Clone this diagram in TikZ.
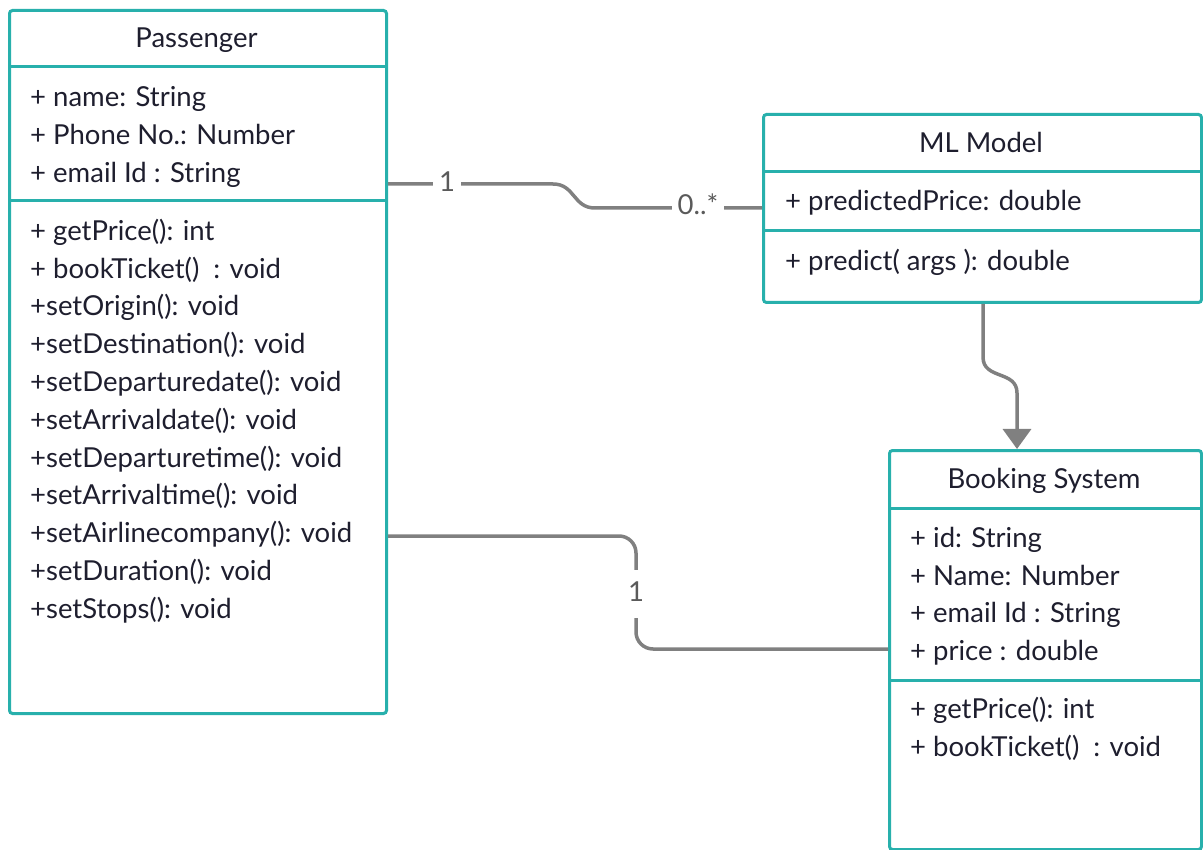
\documentclass[tikz,border=0pt]{standalone}
\usepackage{fontspec}
\setmainfont{Lato}
\usetikzlibrary{arrows.meta}
\definecolor{umlteal}{HTML}{28B0AC}
\definecolor{umltext}{HTML}{1E1E2E}
\definecolor{conngray}{HTML}{808080}
\definecolor{lblgray}{HTML}{5A5A5A}
\begin{document}
\begin{tikzpicture}[x=1pt,y=-1pt,
  classbox/.style={draw=umlteal, line width=3pt, rounded corners=3pt, anchor=north west, inner sep=0pt, fill=white},
  divider/.style={draw=umlteal, line width=3pt},
  txt/.style={anchor=base west, inner sep=0pt, text=umltext, font=\fontsize{27.5}{32}\selectfont},
  ttl/.style={anchor=base, inner sep=0pt, text=umltext, font=\fontsize{27.5}{32}\selectfont},
  conn/.style={draw=conngray, line width=3.5pt},
  lbl/.style={fill=white, text=lblgray, font=\fontsize{27.5}{32}\selectfont, inner xsep=6pt, inner ysep=11pt, text height=20pt, text depth=6pt},
]
\useasboundingbox (0,0) rectangle (1203,850);

% ---------- Passenger ----------
\node[classbox, minimum width=377pt, minimum height=703pt] (pass) at (8,9) {};
\draw[divider] (pass.west |- 0,67) -- (pass.east |- 0,67);
\draw[divider] (pass.west |- 0,201) -- (pass.east |- 0,201);
\node[ttl] (pt) at (196.5,48) {Passenger};
\node[txt] (pa1) at (30,107) {+ name: String};
\node[txt] (pa2) at (30,145) {+ Phone No.: Number};
\node[txt] (pa3) at (30,183) {+ email Id : String};
\node[txt] (pm1) at (30,240.5) {+ getPrice(): int};
\node[txt] (pm2) at (30,278.25) {+ bookTicket()~ : void};
\node[txt] (pm3) at (30,316) {+setOrigin(): void};
\node[txt] (pm4) at (30,353.75) {+setDestination(): void};
\node[txt] (pm5) at (30,391.5) {+setDeparturedate(): void};
\node[txt] (pm6) at (30,429.25) {+setArrivaldate(): void};
\node[txt] (pm7) at (30,467) {+setDeparturetime(): void};
\node[txt] (pm8) at (30,504.75) {+setArrivaltime(): void};
\node[txt] (pm9) at (30,542.5) {+setAirlinecompany(): void};
\node[txt] (pm10) at (30,580.25) {+setDuration(): void};
\node[txt] (pm11) at (30,618) {+setStops(): void};

% ---------- ML Model ----------
\node[classbox, minimum width=438pt, minimum height=188pt] (ml) at (762,113) {};
\draw[divider] (ml.west |- 0,172) -- (ml.east |- 0,172);
\draw[divider] (ml.west |- 0,231) -- (ml.east |- 0,231);
\node[ttl] (mt) at (981,153) {ML Model};
\node[txt] (ma1) at (785,211) {+ predictedPrice: double};
\node[txt] (mm1) at (785,271) {+ predict( args ): double};

% ---------- Booking System ----------
\node[classbox, minimum width=312pt, minimum height=399pt] (book) at (888,449) {};
\draw[divider] (book.west |- 0,508) -- (book.east |- 0,508);
\draw[divider] (book.west |- 0,680) -- (book.east |- 0,680);
\node[ttl] (bt) at (1044,488) {Booking System};
\node[txt] (ba1) at (910,547) {+ id: String};
\node[txt] (ba2) at (910,585) {+ Name: Number};
\node[txt] (ba3) at (910,622.5) {+ email Id : String};
\node[txt] (ba4) at (910,660) {+ price : double};
\node[txt] (bm1) at (910,718) {+ getPrice(): int};
\node[txt] (bm2) at (910,756) {+ bookTicket()~ : void};

% ---------- Connectors ----------
\coordinate (c1s) at (pass.east |- 0,184);
\coordinate (c1e) at (ml.west |- 0,208);
\draw[conn] (c1s) -- (553,184) .. controls (575,184) and (573,208) .. (595,208) -- (c1e);
\node[lbl] (l1) at (447,185) {1};
\node[lbl] (l2) at (698,208) {0..*};

\coordinate (c2s) at (ml.south -| 983,0);
\coordinate (c2e) at (book.north -| 1017,0);
\draw[conn, -{Triangle[width=28pt,length=20pt]}] (c2s) -- (983,357) .. controls (983,380) and (1017,370) .. (1017,393) -- (c2e);

\coordinate (c3s) at (pass.east |- 0,536);
\coordinate (c3e) at (book.west |- 0,649);
\draw[conn, rounded corners=17pt] (c3s) -- (636,536) -- (636,649) -- (c3e);
\node[lbl] (l3) at (636,594) {1};
\end{tikzpicture}
\end{document}
